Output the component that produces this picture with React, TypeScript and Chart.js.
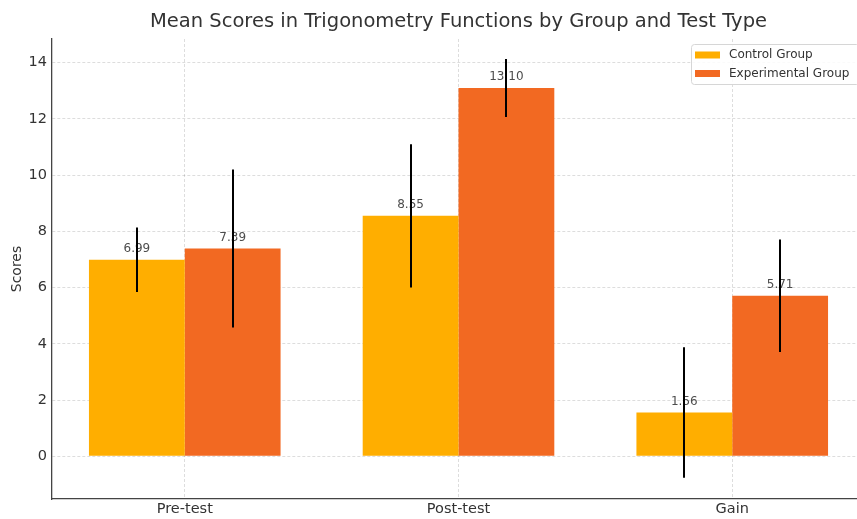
import React, { useEffect, useRef } from 'react';
import { Chart, registerables } from 'chart.js';

Chart.register(...registerables);

const categories = ['Pre-test', 'Post-test', 'Gain'];
const positions = [0, 1, 2];
const controlMeans = [6.99, 8.55, 1.56];
const experimentalMeans = [7.39, 13.1, 5.71];
const controlErrors = [1.15, 2.55, 2.32];
const experimentalErrors = [2.81, 1.03, 2.0];
const yTicks = [0, 2, 4, 6, 8, 10, 12, 14];
const seriesNames = ['Control Group', 'Experimental Group'];
const seriesColors = ['#FFAE00', '#F26922'];
const chartTitle = 'Mean Scores in Trigonometry Functions by Group and Test Type';
const yAxisTitle = 'Scores';

const FONT = '"DejaVu Sans", "Liberation Sans", sans-serif';

const overlayPlugin = {
  id: 'overlayPlugin',
  afterDatasetsDraw(chart: any) {
    const ctx = chart.ctx;
    const ys = chart.scales.y;
    const vals = [controlMeans, experimentalMeans];
    const errs = [controlErrors, experimentalErrors];
    ctx.save();
    ctx.font = `12px ${FONT}`;
    ctx.fillStyle = '#4d4d4d';
    ctx.textAlign = 'center';
    ctx.textBaseline = 'middle';
    vals.forEach((series, d) => {
      const meta = chart.getDatasetMeta(d);
      meta.data.forEach((bar: any, i: number) => {
        ctx.fillText(series[i].toFixed(2), bar.x, ys.getPixelForValue(series[i]) - 11);
      });
    });
    ctx.strokeStyle = '#000';
    ctx.lineWidth = 2;
    vals.forEach((series, d) => {
      const meta = chart.getDatasetMeta(d);
      meta.data.forEach((bar: any, i: number) => {
        const x = Math.round(bar.x);
        ctx.beginPath();
        ctx.moveTo(x, ys.getPixelForValue(series[i] + errs[d][i]));
        ctx.lineTo(x, ys.getPixelForValue(series[i] - errs[d][i]));
        ctx.stroke();
      });
    });
    ctx.restore();
  },
  afterDraw(chart: any) {
    const ctx = chart.ctx;
    const area = chart.chartArea;
    ctx.save();
    // title
    ctx.font = `19.5px ${FONT}`;
    ctx.fillStyle = '#333';
    ctx.textAlign = 'center';
    ctx.textBaseline = 'middle';
    ctx.fillText(chartTitle, (area.left + area.right) / 2, 22);
    // legend
    const bx = area.right - 174;
    const by = area.top + 5;
    const bw = 168;
    const bh = 40;
    ctx.fillStyle = 'rgba(255,255,255,0.85)';
    ctx.strokeStyle = '#d6d6d6';
    ctx.lineWidth = 1;
    ctx.beginPath();
    if ((ctx as any).roundRect) (ctx as any).roundRect(bx + 0.5, by + 0.5, bw, bh, 3);
    else ctx.rect(bx + 0.5, by + 0.5, bw, bh);
    ctx.fill();
    ctx.stroke();
    ctx.font = `12px ${FONT}`;
    ctx.textAlign = 'left';
    seriesNames.forEach((name, i) => {
      const cy = by + 11 + i * 18.5;
      ctx.fillStyle = seriesColors[i];
      ctx.fillRect(bx + 4, cy - 3.5, 25, 7);
      ctx.fillStyle = '#333';
      ctx.fillText(name, bx + 38, cy);
    });
    ctx.restore();
  },
};

export default function App() {
  const canvasRef = useRef<HTMLCanvasElement | null>(null);

  useEffect(() => {
    if (!canvasRef.current) return;
    const chart = new Chart(canvasRef.current, {
      type: 'bar',
      data: {
        datasets: [
          {
            label: seriesNames[0],
            data: positions.map((p, i) => ({ x: p, y: controlMeans[i] })),
            backgroundColor: seriesColors[0],
            borderWidth: 0,
          },
          {
            label: seriesNames[1],
            data: positions.map((p, i) => ({ x: p, y: experimentalMeans[i] })),
            backgroundColor: seriesColors[1],
            borderWidth: 0,
          },
        ],
      },
      options: {
        responsive: false,
        animation: false,
        categoryPercentage: 0.7,
        barPercentage: 1.0,
        layout: { padding: { top: 39, right: 5, left: 0, bottom: 0 } },
        plugins: {
          legend: { display: false },
          title: { display: false },
          tooltip: { enabled: false },
        },
        scales: {
          x: {
            type: 'linear',
            min: -0.485,
            max: 2.485,
            offset: false,
            afterBuildTicks: (scale: any) => {
              scale.ticks = positions.map((v) => ({ value: v }));
            },
            afterFit: (scale: any) => {
              scale.height = 20;
            },
            ticks: {
              autoSkip: false,
              maxRotation: 0,
              padding: 2,
              color: '#333',
              font: { size: 14.5, family: FONT },
              callback: (_v: any, i: number) => categories[i],
            },
            grid: {
              offset: false,
              drawTicks: false,
              color: 'rgba(0,0,0,0.17)',
              lineWidth: 0.8,
            },
            border: { display: true, color: '#444', width: 1.3, dash: [3, 2] },
          },
          y: {
            type: 'linear',
            min: -1.52,
            max: 14.84,
            afterBuildTicks: (scale: any) => {
              scale.ticks = yTicks.map((v) => ({ value: v }));
            },
            afterFit: (scale: any) => {
              scale.width = 52;
            },
            ticks: {
              padding: 5,
              color: '#333',
              font: { size: 14.5, family: FONT },
              callback: (v: any) => String(v),
            },
            grid: {
              drawTicks: false,
              color: 'rgba(0,0,0,0.17)',
              lineWidth: 0.8,
            },
            border: { display: true, color: '#444', width: 1.3, dash: [3, 2] },
            title: {
              display: true,
              text: yAxisTitle,
              color: '#333',
              font: { size: 14, family: FONT },
              padding: { top: 8.5, bottom: 0 },
            },
          },
        },
      },
      plugins: [overlayPlugin],
    } as any);
    return () => chart.destroy();
  }, []);

  return (
    <div style={{ position: 'fixed', left: 0, top: 0, width: 857, height: 519, overflow: 'hidden', background: '#fff' }}>
      <canvas ref={canvasRef} width={870} height={519} style={{ width: 870, height: 519, display: 'block' }} />
    </div>
  );
}
